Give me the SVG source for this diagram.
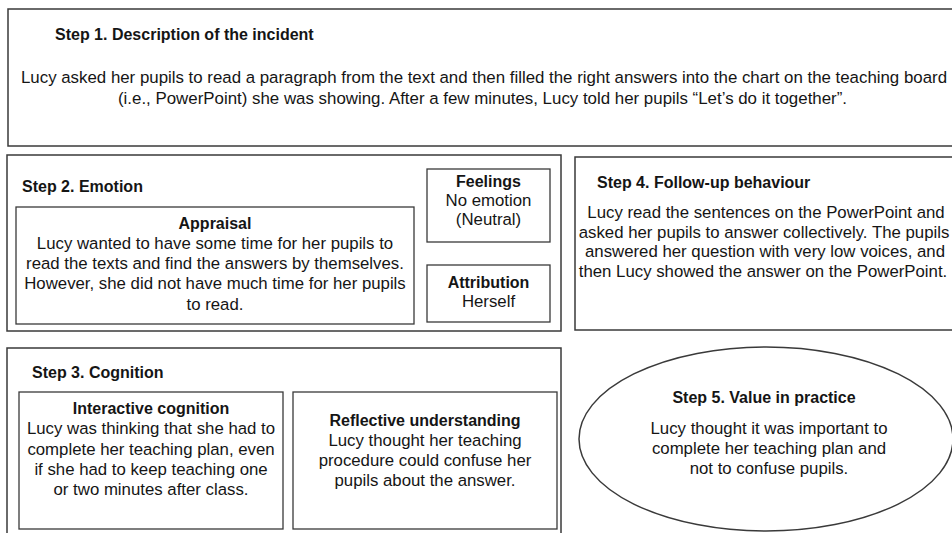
<svg xmlns="http://www.w3.org/2000/svg" width="952" height="533" viewBox="0 0 952 533">
  <style>
    .box { fill: #ffffff; stroke: #3a3a3a; stroke-width: 1.5; }
    .inner { fill: #ffffff; stroke: #3a3a3a; stroke-width: 1.3; }
    text { font-family: "Liberation Sans", Arial, sans-serif; fill: #151515; }
    .t { font-size: 16.8px; }
    .b { font-size: 16px; font-weight: bold; }
    .c { text-anchor: middle; }
  </style>
  <rect width="952" height="533" fill="#ffffff"/>

  <g id="step1">
    <rect class="box" x="8" y="9" width="960" height="137"/>
    <text class="b" x="55" y="40">Step 1. Description of the incident</text>
    <text class="t c" x="484" y="83" textLength="926" lengthAdjust="spacingAndGlyphs">Lucy asked her pupils to read a paragraph from the text and then filled the right answers into the chart on the teaching board</text>
    <text class="t c" x="482.5" y="104" textLength="729" lengthAdjust="spacingAndGlyphs">(i.e., PowerPoint) she was showing. After a few minutes, Lucy told her pupils “Let’s do it together”.</text>
  </g>

  <g id="step2">
    <rect class="box" x="7" y="155" width="554" height="176"/>
    <text class="b" x="22" y="192">Step 2. Emotion</text>
    <g id="appraisal">
      <rect class="inner" x="16" y="207" width="398" height="117"/>
      <text class="b c" x="215" y="229">Appraisal</text>
      <text class="t c" x="215" y="249">Lucy wanted to have some time for her pupils to</text>
      <text class="t c" x="215" y="269">read the texts and find the answers by themselves.</text>
      <text class="t c" x="215" y="289">However, she did not have much time for her pupils</text>
      <text class="t c" x="215" y="310">to read.</text>
    </g>
    <g id="feelings">
      <rect class="inner" x="427" y="169" width="123" height="73"/>
      <text class="b c" x="488.5" y="187">Feelings</text>
      <text class="t c" x="488.5" y="206">No emotion</text>
      <text class="t c" x="488.5" y="225">(Neutral)</text>
    </g>
    <g id="attribution">
      <rect class="inner" x="427" y="265" width="123" height="57"/>
      <text class="b c" x="488.5" y="288">Attribution</text>
      <text class="t c" x="488.5" y="307">Herself</text>
    </g>
  </g>

  <g id="step4">
    <rect class="box" x="575" y="157" width="400" height="173"/>
    <text class="b" x="597" y="188">Step 4. Follow-up behaviour</text>
    <text class="t c" x="766" y="218">Lucy read the sentences on the PowerPoint and</text>
    <text class="t c" x="764" y="238">asked her pupils to answer collectively. The pupils</text>
    <text class="t c" x="765" y="257">answered her question with very low voices, and</text>
    <text class="t c" x="763" y="277">then Lucy showed the answer on the PowerPoint.</text>
  </g>

  <g id="step3">
    <rect class="box" x="7" y="348" width="554" height="200"/>
    <text class="b" x="32" y="378">Step 3. Cognition</text>
    <g id="interactive">
      <rect class="inner" x="19" y="392" width="264" height="137"/>
      <text class="b c" x="151" y="414">Interactive cognition</text>
      <text class="t c" x="151" y="434">Lucy was thinking that she had to</text>
      <text class="t c" x="151" y="455">complete her teaching plan, even</text>
      <text class="t c" x="151" y="475">if she had to keep teaching one</text>
      <text class="t c" x="151" y="495">or two minutes after class.</text>
    </g>
    <g id="reflective">
      <rect class="inner" x="293" y="392" width="264" height="137"/>
      <text class="b c" x="425" y="426">Reflective understanding</text>
      <text class="t c" x="425" y="446">Lucy thought her teaching</text>
      <text class="t c" x="425" y="466">procedure could confuse her</text>
      <text class="t c" x="425" y="486">pupils about the answer.</text>
    </g>
  </g>

  <g id="step5">
    <ellipse class="box" cx="766" cy="439" rx="187" ry="92"/>
    <text class="b c" x="764" y="403">Step 5. Value in practice</text>
    <text class="t c" x="769" y="434">Lucy thought it was important to</text>
    <text class="t c" x="769" y="454">complete her teaching plan and</text>
    <text class="t c" x="769" y="474">not to confuse pupils.</text>
  </g>
</svg>
